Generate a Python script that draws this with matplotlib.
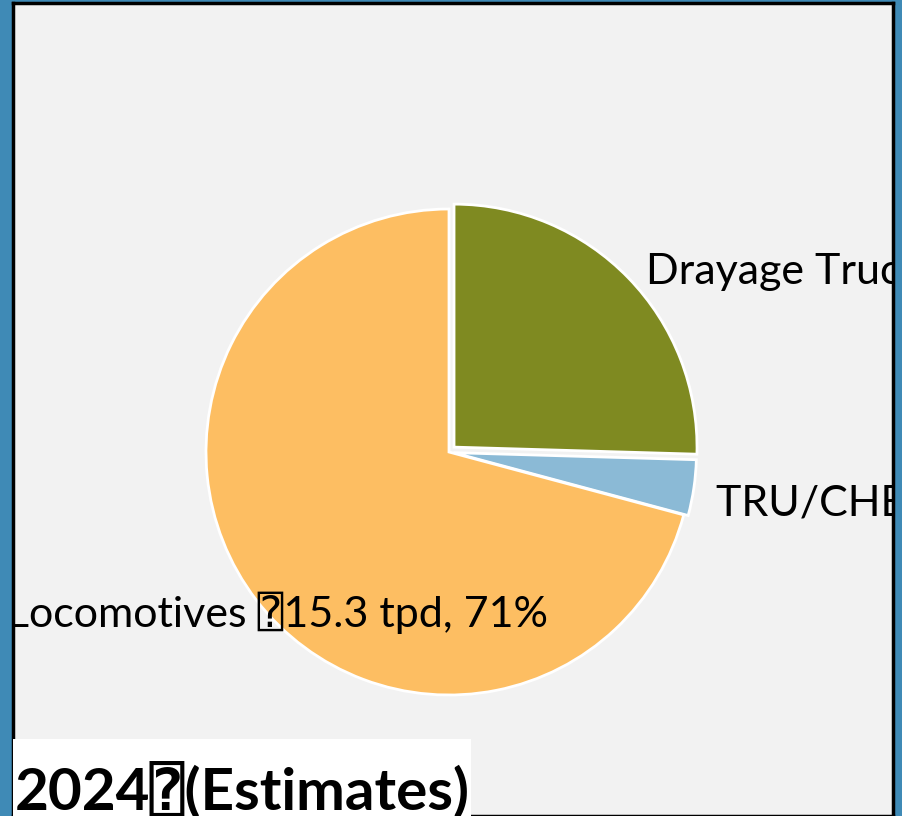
import matplotlib.pyplot as plt
from matplotlib.patches import Rectangle

# emissions by source, tons per day
fuentes = ["Drayage Trucks", "TRU/CHE", "Locomotives"]
tpd = [5.5, 0.8, 15.3]
pct = [25, 4, 71]
colores = ["#7f8a21", "#8bbad6", "#fdbe62"]
titulo = "2024\u2370(Estimates)"

W, H = 902, 816
fig = plt.figure(figsize=(W / 100, H / 100), dpi=100, facecolor="#3f8ab6")

# gray panel, axes laid out in pixel units (y up)
x0, x1, ytop = 13, 893, 3
ax = fig.add_axes([x0 / W, 0, (x1 - x0) / W, (H - ytop) / H])
ax.set_facecolor("#f2f2f2")
for s in ax.spines.values():
    s.set_color("black")
    s.set_linewidth(2.5)

# explode is in data units here (pixels)
ax.pie(tpd, colors=colores, startangle=90, counterclock=False,
       center=(449, H - 452), radius=243, explode=[7, 4.5, 0],
       wedgeprops=dict(edgecolor="white", linewidth=2), frame=True)
ax.set_xlim(x0, x1)
ax.set_ylim(0, H - ytop)
ax.set_aspect("auto")
ax.set_xticks([])
ax.set_yticks([])

fuente = ["Lato", "DejaVu Sans", "DejaVu Sans Mono"]
etiquetas = [f"{n} \u2370{v} tpd, {p}%" for n, v, p in zip(fuentes, tpd, pct)]
etiquetas[1] = f"TRU/CHE, \u2370{tpd[1]} tpd, {pct[1]}%"
pos = [(646, H - 270, "left"), (716, H - 502, "left"), (548, H - 613, "right")]
for txt, (x, y, ha) in zip(etiquetas, pos):
    ax.text(x, y, txt, ha=ha, va="center", fontsize=31, family=fuente,
            color="black", clip_on=True)

# title strip at the bottom
fig.add_artist(Rectangle((x0 / W, 0), (471 - x0) / W, (H - 739) / H,
                         transform=fig.transFigure, facecolor="white",
                         edgecolor="none", zorder=5))
fig.text(15 / W, 6 / H, titulo, ha="left", va="baseline", fontsize=42,
         fontweight="bold", family=fuente, color="black", zorder=6)

fig.savefig("out.png", dpi=100, facecolor=fig.get_facecolor())
